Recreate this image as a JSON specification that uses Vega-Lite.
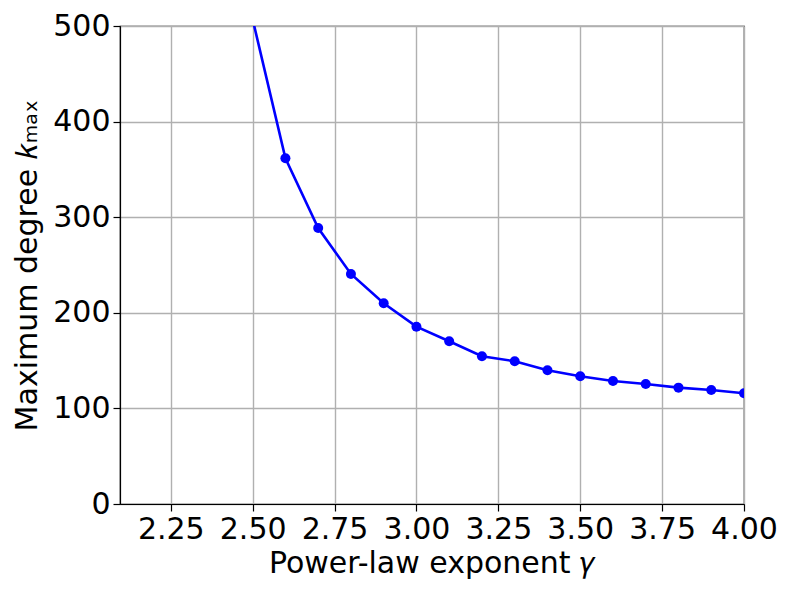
{
  "$schema": "https://vega.github.io/schema/vega-lite/v6.json",
  "autosize": "none",
  "width": 624,
  "height": 478,
  "padding": {"left": 120, "top": 26, "right": 49, "bottom": 91},
  "background": "white",
  "config": {
    "font": "DejaVu Sans",
    "view": {"stroke": "black", "strokeWidth": 1.2},
    "axis": {
      "labelFont": "DejaVu Sans",
      "titleFont": "DejaVu Sans",
      "labelFontSize": 30,
      "titleFontSize": 30,
      "labelColor": "black",
      "titleColor": "black",
      "titleFontWeight": "normal",
      "tickColor": "black",
      "tickSize": 7,
      "tickWidth": 1.2,
      "domainColor": "black",
      "domainWidth": 1.2,
      "gridColor": "#b0b0b0",
      "gridWidth": 1.4,
      "gridOpacity": 1,
      "labelPadding": 3
    }
  },
  "data": {
    "values": [
      {"gamma": 2.5, "kmax": 507},
      {"gamma": 2.6, "kmax": 361.6},
      {"gamma": 2.7, "kmax": 288.7},
      {"gamma": 2.8, "kmax": 240.6},
      {"gamma": 2.9, "kmax": 209.9},
      {"gamma": 3.0, "kmax": 185.5},
      {"gamma": 3.1, "kmax": 170.2},
      {"gamma": 3.2, "kmax": 154.5},
      {"gamma": 3.3, "kmax": 149.3},
      {"gamma": 3.4, "kmax": 139.9},
      {"gamma": 3.5, "kmax": 133.6},
      {"gamma": 3.6, "kmax": 128.7},
      {"gamma": 3.7, "kmax": 125.5},
      {"gamma": 3.8, "kmax": 121.7},
      {"gamma": 3.9, "kmax": 119.2},
      {"gamma": 4.0, "kmax": 115.8}
    ]
  },
  "mark": {"type": "line", "color": "#0000ff", "strokeWidth": 2.6, "clip": true, "point": {"filled": true, "size": 100, "color": "#0000ff", "opacity": 1}},
  "encoding": {
    "x": {
      "field": "gamma",
      "type": "quantitative",
      "scale": {"domain": [2.095, 4.0], "nice": false, "zero": false},
      "axis": {"values": [2.25, 2.5, 2.75, 3.0, 3.25, 3.5, 3.75, 4.0], "format": ".2f", "title": "Power-law exponent 𝛾", "titlePadding": 4, "labelFlush": false}
    },
    "y": {
      "field": "kmax",
      "type": "quantitative",
      "scale": {"domain": [0, 500], "nice": false},
      "axis": {"values": [0, 100, 200, 300, 400, 500], "title": "Maximum degree 𝑘ₘₐₓ", "titlePadding": 10, "labelFlush": false}
    }
  }
}
